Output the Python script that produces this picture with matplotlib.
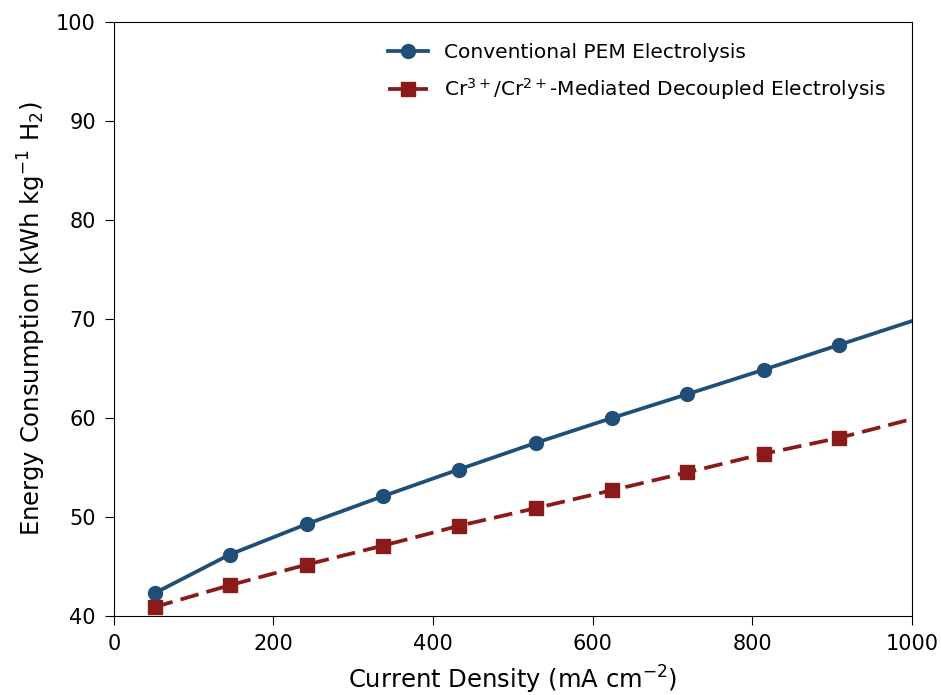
import numpy as np
import matplotlib.pyplot as plt

# Values
current_density = [51, 145, 242, 337, 432, 529, 624, 718, 815, 909, 1000]
pem_energy = [42.3, 46.2, 49.3, 52.1, 54.8, 57.5, 60.0, 62.4, 64.9, 67.4, 69.8]
decoupled_energy = [40.9, 43.1, 45.2, 47.1, 49.1, 50.9, 52.7, 54.5, 56.4, 58.0, 59.9]

PEM_COLOR = "#1f4e79"
DECOUPLED_COLOR = "#8b1a1a"

fig, ax = plt.subplots(figsize=(9.41, 6.95), dpi=100)
fig.subplots_adjust(left=0.121, right=0.969, top=0.968, bottom=0.1137)

# markers on every point except the final (axis edge) one
marks = list(range(len(current_density) - 1))

ax.plot(current_density, pem_energy, color=PEM_COLOR, linewidth=2.7,
        marker="o", markersize=10, markevery=marks,
        label="Conventional PEM Electrolysis")
ax.plot(current_density, decoupled_energy, color=DECOUPLED_COLOR, linewidth=2.7,
        linestyle="--", dashes=(5, 2.2), marker="s", markersize=10, markevery=marks,
        label=r"Cr$^{3+}$/Cr$^{2+}$-Mediated Decoupled Electrolysis")

ax.set_xlim(0, 1000)
ax.set_ylim(40, 100)
ax.set_xlabel(r"Current Density (mA cm$^{-2}$)", fontsize=17.5, labelpad=7)
ax.set_ylabel(r"Energy Consumption (kWh kg$^{-1}$ H$_2$)", fontsize=17.5, labelpad=6)
ax.tick_params(labelsize=15, length=6.5, pad=6.5)

ax.legend(loc="upper right", bbox_to_anchor=(0.99, 0.995), frameon=False,
          fontsize=14.5, labelspacing=0.7)

fig.savefig("out.png", dpi=100)
